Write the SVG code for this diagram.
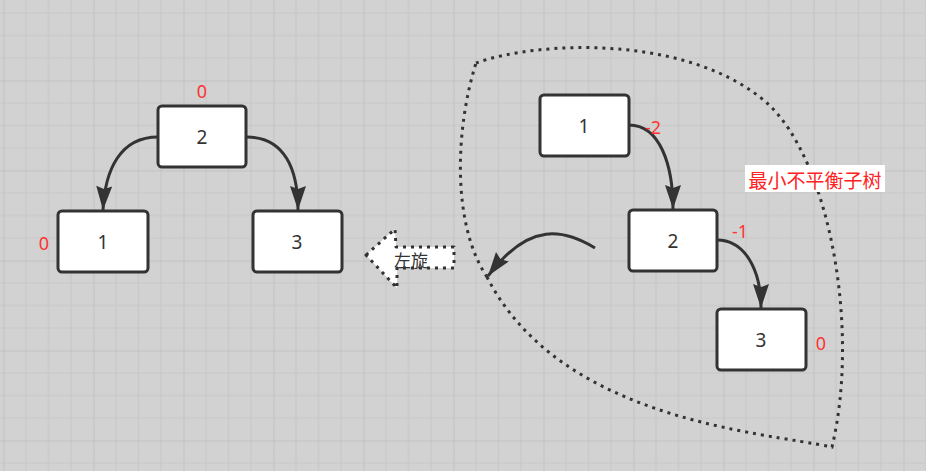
<svg xmlns="http://www.w3.org/2000/svg" width="926" height="471" viewBox="0 0 926 471">
<style>
.node rect{fill:#fff;stroke:#333;stroke-width:3}
.node text{font-family:"Noto Sans","Noto Sans CJK SC",sans-serif;font-size:19px;fill:#333;text-anchor:middle;dominant-baseline:central}
.bf{font-family:"Noto Sans","Noto Sans CJK SC",sans-serif;font-size:18px;fill:#ff3333;text-anchor:middle;dominant-baseline:central}
.edge{fill:none;stroke:#333;stroke-width:3;marker-end:url(#arr)}
.dot{stroke:#333;stroke-width:3;stroke-dasharray:3 5}
</style>
<defs>
<pattern id="grid" patternUnits="userSpaceOnUse" x="3.5" y="80.5" width="90" height="90">
<rect width="90" height="90" fill="#d2d2d2"/>
<path d="M22.5,0V90M45,0V90M67.5,0V90M0,22.5H90M0,45H90M0,67.5H90" stroke="#c7c7c7" stroke-width="1.2"/>
<path d="M0,0V90M0,0H90" stroke="#bdbdbd" stroke-width="1.5"/>
</pattern>
<marker id="arr" markerUnits="userSpaceOnUse" markerWidth="26" markerHeight="18" refX="24" refY="8" orient="auto" overflow="visible">
<path d="M0,0 L24,8 L0,16 L3,8 Z" fill="#333"/>
</marker>
</defs>
<rect width="926" height="471" fill="url(#grid)"/>

<path id="region" class="dot" fill="none" d="M476,63 C540,40 690,35 767,103 C830,160 860,330 832,447 C760,432 560,420 487,277 M487,277 C452,225 455,130 476,63"/>

<g id="connectors">
<path class="edge" d="M158,137 C120,137 105,170 103,210"/>
<path class="edge" d="M247,137 C285,137 298,170 298,210"/>
<path class="edge" d="M629,125 C660,125 673,165 673,209"/>
<path class="edge" d="M717,240 C745,240 761,270 761,308"/>
<path class="edge" d="M595,248 C565,230 530,220 488,276"/>
</g>

<g id="rotate">
<path d="M366,255 L395,229 L396,247 L454,247 L454,268 L397,268 L397,288 Z" fill="#fff" class="dot" stroke-linejoin="round"/>
<text x="411" y="259" font-family="'Noto Sans CJK SC',sans-serif" font-size="17" fill="#333" text-anchor="middle" dominant-baseline="central">左旋</text>
</g>

<g id="L2" class="node"><rect x="158" y="106" width="88" height="61" rx="4"/><text x="202" y="137">2</text></g>
<g id="L1" class="node"><rect x="58" y="211" width="90" height="61" rx="4"/><text x="103" y="242">1</text></g>
<g id="L3" class="node"><rect x="253" y="211" width="89" height="61" rx="4"/><text x="297" y="242">3</text></g>
<g id="R1" class="node"><rect x="540" y="95" width="89" height="61" rx="4"/><text x="584" y="126">1</text></g>
<g id="R2" class="node"><rect x="629" y="210" width="88" height="61" rx="4"/><text x="673" y="241">2</text></g>
<g id="R3" class="node"><rect x="717" y="309" width="89" height="61" rx="4"/><text x="761" y="340">3</text></g>

<g id="labels">
<text class="bf" x="202" y="91">0</text>
<text class="bf" x="44" y="243">0</text>
<text class="bf" x="653" y="127">-2</text>
<text class="bf" x="740" y="231">-1</text>
<text class="bf" x="821" y="343">0</text>
</g>

<g id="caption">
<rect x="745" y="165" width="140" height="27" fill="#fff"/>
<text x="815" y="179" font-family="'Noto Sans CJK SC',sans-serif" font-size="19" fill="#ff2222" text-anchor="middle" dominant-baseline="central">最小不平衡子树</text>
</g>
</svg>
